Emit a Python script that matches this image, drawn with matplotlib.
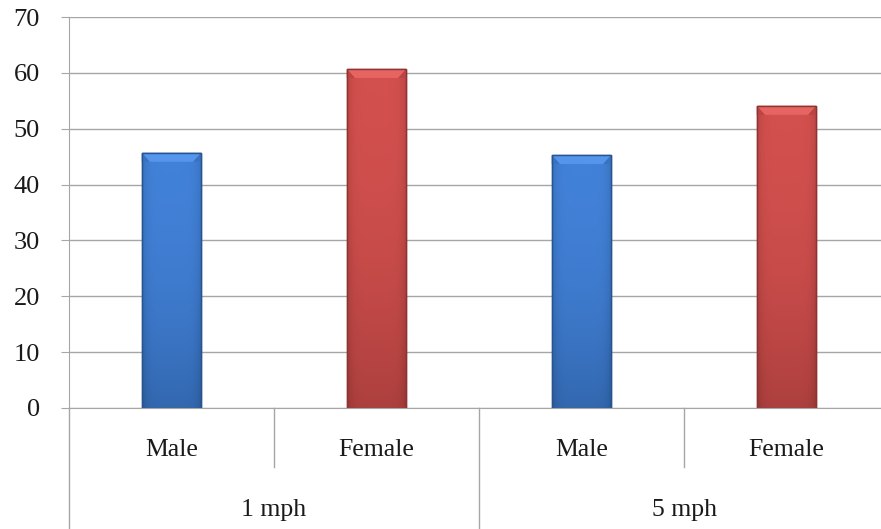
import numpy as np
import matplotlib
matplotlib.use("Agg")
import matplotlib.pyplot as plt
from matplotlib.colors import LinearSegmentedColormap, to_rgb
from matplotlib.patches import Polygon

# --- Data ---
speeds = ["1 mph", "5 mph"]
genders = ["Male", "Female", "Male", "Female"]
values = [45.7, 60.7, 45.3, 54.1]

# --- Styling ---
FONT = "Liberation Serif"
BAR_COLORS = {"Male": "#4281d8", "Female": "#d2504e"}
DARK_COLORS = {"Male": "#27548f", "Female": "#8e3331"}
GRID = "#a6a6a6"
TEXT = "#1a1a1a"
BAR_WIDTH = 0.29

plt.rcParams["font.family"] = FONT

fig = plt.figure(figsize=(8.81, 5.29), dpi=100)
ax = fig.add_axes([69 / 881, 121 / 529, 820 / 881, 391 / 529])

x = np.arange(len(values))
ax.set_xlim(-0.5, len(values) - 0.5)
ax.set_ylim(0, 70)

# gridlines behind the bars
ax.set_yticks(np.arange(0, 71, 10))
ax.yaxis.grid(True, color=GRID, linewidth=1.0)
ax.set_axisbelow(True)
ax.tick_params(axis="y", length=6, color=GRID, labelsize=19, pad=15, labelcolor=TEXT)
ax.set_xticks([])

for side in ["top", "right"]:
    ax.spines[side].set_visible(False)
ax.spines["left"].set_color(GRID)
ax.spines["bottom"].set_color(GRID)

# px -> data unit helpers for the bevel
px_x = 1.0 / 205
px_y = 70 / 391

bars = ax.bar(x, values, width=BAR_WIDTH, color=[BAR_COLORS[g] for g in genders],
              edgecolor=[DARK_COLORS[g] for g in genders], linewidth=1.0, zorder=2)

for bar, g, v in zip(bars, genders, values):
    x0 = bar.get_x()
    x1 = x0 + bar.get_width()
    base = np.array(to_rgb(BAR_COLORS[g]))
    dark = np.array(to_rgb(DARK_COLORS[g]))
    light = np.clip(base + 0.08, 0, 1)

    # vertical shading: darker toward the base, plus darker side edges
    ny, nx = 100, 40
    t = np.linspace(0, 1, ny)[:, None]          # 0 bottom -> 1 top
    s = np.abs(np.linspace(-1, 1, nx))[None, :]  # 0 centre -> 1 edge
    shade = 0.55 * (1 - t) ** 2 + 0.35 * s ** 6
    shade = np.clip(shade, 0, 1)
    cmap = LinearSegmentedColormap.from_list(g, [base, dark])
    im = ax.imshow(shade, extent=[x0, x1, 0, v], origin="lower", cmap=cmap,
                   vmin=0, vmax=1, aspect="auto", zorder=2.1, interpolation="bilinear")
    im.set_clip_path(bar)

    # top bevel
    d = 8 * px_x
    bt = 9 * px_y
    top = Polygon([(x0, v), (x1, v), (x1 - d, v - bt), (x0 + d, v - bt)],
                  closed=True, facecolor=light, edgecolor="none", zorder=2.2)
    ax.add_patch(top)
    for xa, xb in [(x0, x0 + d), (x1, x1 - d)]:
        corner = Polygon([(xa, v), (xb, v - bt), (xa, v - bt)], closed=True,
                         facecolor=np.clip(base * 0.88, 0, 1), edgecolor="none", zorder=2.25)
        ax.add_patch(corner)
    ax.add_patch(Polygon([(x0, 0), (x0, v), (x1, v), (x1, 0)], closed=True,
                         facecolor="none", edgecolor=dark, linewidth=1.0, zorder=2.3))

ax.set_xlim(-0.5, len(values) - 0.5)
ax.set_ylim(0, 70)

# two-level category axis
trans = ax.get_xaxis_transform()
for xi, g in zip(x, genders):
    ax.text(xi, -0.107, g, transform=trans, ha="center", va="center",
            fontsize=18.5, color=TEXT)
per_group = len(genders) // len(speeds)
for i, sp in enumerate(speeds):
    centre = i * per_group + (per_group - 1) / 2
    ax.text(centre, -0.262, sp, transform=trans, ha="center", va="center",
            fontsize=18.5, color=TEXT)

# separators: short between genders, long between speed groups
for i in range(len(values) + 1):
    xs = i - 0.5
    if i % per_group == 0:
        y_end = -0.31
    else:
        y_end = -0.152
    ax.plot([xs, xs], [0, y_end], transform=trans, color=GRID, linewidth=1.0,
            clip_on=False)

fig.savefig("out.png", dpi=100, facecolor="white")
